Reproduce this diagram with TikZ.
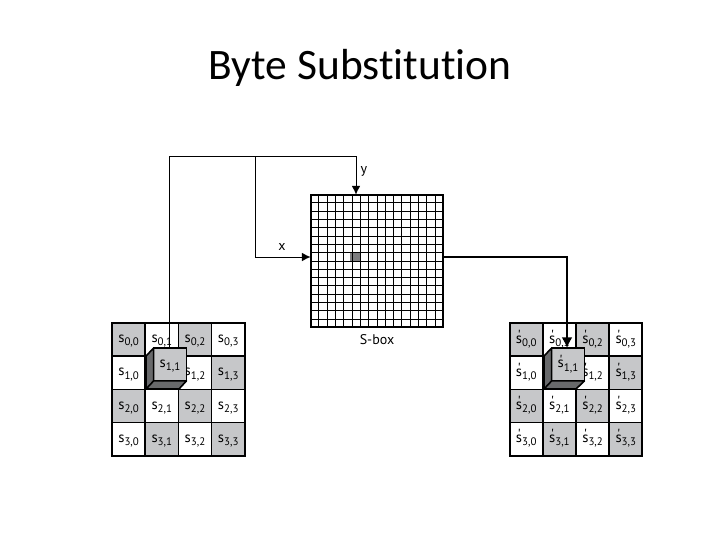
\documentclass[tikz,border=0pt]{standalone}
\usepackage{fontspec}
\setmainfont[Ligatures=NoCommon]{Carlito}
\newfontfamily\labelfont{PT Sans}
\usetikzlibrary{arrows.meta, positioning, calc}
\definecolor{cellgray}{RGB}{198,199,201}
\definecolor{sidegray}{RGB}{104,105,107}
\definecolor{markgray}{RGB}{125,125,127}
\newcommand{\statelabel}[2]{{\labelfont\fontsize{11pt}{11pt}\selectfont\smash{\raisebox{-2.3pt}{s\raisebox{-2.4pt}{\fontsize{8.2pt}{9pt}\selectfont #2}}}}}
\newcommand{\primelabel}[2]{{\labelfont\fontsize{11pt}{11pt}\selectfont\smash{\raisebox{-2.6pt}{s\llap{\raisebox{2.2pt}{'\kern1pt}}\raisebox{-2.4pt}{\fontsize{8.2pt}{9pt}\selectfont #2}}}}}
\tikzset{
    cellbox/.style={draw, line width=1.1pt, minimum width=24.9pt, minimum height=24.9pt, inner sep=0pt, outer sep=0pt},
    cubebox/.style={draw, line width=1.2pt, fill=cellgray, minimum width=24.6pt, minimum height=24.6pt, inner sep=0pt, outer sep=0pt},
    gridframe/.style={draw=none, line width=1.4pt, minimum width=99.6pt, minimum height=99.6pt, inner sep=0pt, outer sep=0pt},
    wire/.style={line width=0.75pt},
    feed/.style={wire, -{Latex[length=6.5pt,width=6.5pt]}},
    outfeed/.style={line width=1.2pt, -{Latex[length=8pt,width=8pt]}}
}
\begin{document}
\begin{tikzpicture}[x=0.75pt, y=-0.75pt]
    \useasboundingbox (0,0) rectangle (720,540);
    \node (title) at (360,68) {\fontsize{32.6pt}{38pt}\selectfont Byte Substitution};

    % state before
    \node[gridframe] (before) at (178.5,389.5) {};
    \foreach \r in {0,...,3} {
        \foreach \c in {0,...,3} {
            \pgfmathtruncatemacro{\odd}{mod(\r+\c,2)}
            \ifnum\odd=0 \def\shade{cellgray}\else\def\shade{white}\fi
            \node[cellbox, fill=\shade] (a\r\c) at (112+33.2*\c+16.6,323+33.2*\r+16.6) {\statelabel{s}{\r,\c}};
        }
    }
    \draw[line width=1.4pt] (before.south west) rectangle (before.north east);

    % state after
    \node[gridframe] (after) at (576,389.5) {};
    \foreach \r in {0,...,3} {
        \foreach \c in {0,...,3} {
            \pgfmathtruncatemacro{\odd}{mod(\r+\c,2)}
            \ifnum\odd=0 \def\shade{cellgray}\else\def\shade{white}\fi
            \node[cellbox, fill=\shade] (b\r\c) at (509.6+33.2*\c+16.6,323+33.2*\r+16.6) {\primelabel{s}{\r,\c}};
        }
    }
    \draw[line width=1.4pt] (after.south west) rectangle (after.north east);

    % s-box
    \node[gridframe] (sbox) at (377,261) {};
    \fill[markgray] (350,252.5) rectangle (360,261);
    \foreach \i in {1,...,15} {
        \draw[line width=0.75pt] ($(sbox.north west)!\i/16!(sbox.north east)$) -- ($(sbox.south west)!\i/16!(sbox.south east)$);
        \draw[line width=0.75pt] ($(sbox.north west)!\i/16!(sbox.south west)$) -- ($(sbox.north east)!\i/16!(sbox.south east)$);
    }
    \draw[line width=1.4pt] (sbox.south west) rectangle (sbox.north east);
    \node[below=2pt of sbox, font=\labelfont\fontsize{10.5pt}{11pt}\selectfont] (sboxname) {S-box};

    % cubes
    \node[cubebox] (cubea) at (170,364.5) {\statelabel{s}{1,1}};
    \fill[sidegray, draw=black, line width=1.2pt, line join=round] (cubea.north west) -- (146,356) -- (146,389) -- (179,389) -- (cubea.south east) -- (cubea.south west) -- cycle;
    \draw[line width=1.2pt] (cubea.south west) -- (146,389);
    \node[cubebox] (cubeb) at (568,364.5) {\primelabel{s}{1,1}};
    \fill[sidegray, draw=black, line width=1.2pt, line join=round] (cubeb.north west) -- (544,356) -- (544,389) -- (576,389) -- (cubeb.south east) -- (cubeb.south west) -- cycle;
    \draw[line width=1.2pt] (cubeb.south west) -- (544,389);

    % connectors
    \coordinate (ytop) at (169,156);
    \coordinate (yend) at (356,156);
    \coordinate (xturn) at (255,156);
    \coordinate (xend) at (255,257);
    \coordinate (outturn) at (567,257);
    \draw[feed] (cubea.north -| ytop) -- (ytop) -- (yend) -- (yend |- sbox.north);
    \draw[feed] (xturn) -- (xend) -- (xend -| sbox.west);
    \draw[outfeed] (outturn -| sbox.east) -- (outturn) -- (outturn |- cubeb.north);
    \node[font=\labelfont\fontsize{10.5pt}{11pt}\selectfont] (ylabel) at (364,171) {y};
    \node[font=\labelfont\fontsize{10.5pt}{11pt}\selectfont] (xlabel) at (282,247) {x};
\end{tikzpicture}
\end{document}
